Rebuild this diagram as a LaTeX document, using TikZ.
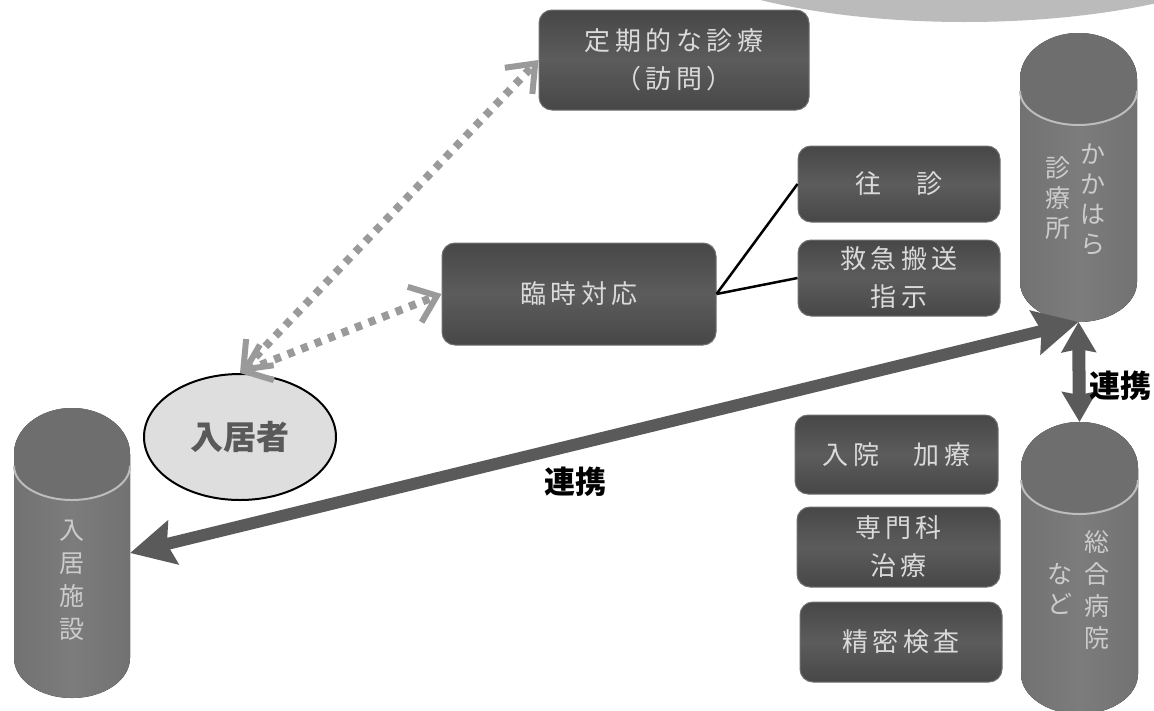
\documentclass[tikz,border=0pt]{standalone}
\usepackage{fontspec}
\usetikzlibrary{arrows.meta,shapes.geometric}
\setmainfont{Noto Sans CJK JP}
\newfontfamily\boxfont[LetterSpace=17]{Noto Sans CJK JP}
\definecolor{boxedge}{HTML}{707070}
\definecolor{boxdark}{HTML}{474747}
\definecolor{boxmid}{HTML}{5C5C5C}
\definecolor{cylside}{HTML}{727272}
\definecolor{cylmid}{HTML}{7C7C7C}
\definecolor{cyltop}{HTML}{6E6E6E}
\definecolor{cyllip}{HTML}{BDBDBD}
\definecolor{softtext}{HTML}{DADADA}
\definecolor{cyltext}{HTML}{CCCCCC}
\definecolor{dots}{HTML}{9A9A9A}
\definecolor{thick}{HTML}{5A5A5A}
\definecolor{band}{HTML}{BBBBBB}
\definecolor{oval}{HTML}{DEDEDE}
\tikzset{
  darkbox/.style={draw=boxedge,line width=1pt,rounded corners=13pt,inner sep=0pt,
    top color=boxdark,bottom color=boxdark,middle color=boxmid,
    align=center,text=softtext,font={\boxfont\fontsize{26}{38}\selectfont}},
  cylanchor/.style={rectangle,inner sep=0pt,outer sep=0pt},
  cyltextnode/.style={inner sep=0pt,align=center,text=cyltext,font={\fontsize{25}{#1}\selectfont}},
  cyltextnode/.default=31,
  dotarrow/.style={draw=dots,line width=8pt,dash pattern=on 7pt off 7.5pt,
    {Straight Barb[length=24pt,width=38pt,line width=6pt]}-{Straight Barb[length=24pt,width=38pt,line width=6pt]}},
  tiearrow/.style={draw=thick,fill=thick,line width=12pt,
    {Stealth[length=44pt,width=44pt,inset=6pt]}-{Stealth[length=44pt,width=44pt,inset=6pt]}},
  linkarrow/.style={draw=thick,fill=thick,line width=13pt,
    {Stealth[length=30pt,width=34pt,inset=3pt]}-{Stealth[length=30pt,width=34pt,inset=3pt]}},
  plainline/.style={draw=black,line width=2.5pt},
  linklabel/.style={inner sep=0pt,text=black,font={\bfseries\fontsize{31}{34}\selectfont}},
}
% name, centre x, half width, top y, bottom y
\newcommand{\makecyl}[5]{%
  \fill[left color=cylside,right color=cylside,middle color=cylmid]
    (#2-#3,#4+46) arc[start angle=180,end angle=0,x radius=#3pt,y radius=46pt]
    -- (#2+#3,#5-40) arc[start angle=0,end angle=-180,x radius=#3pt,y radius=40pt] -- cycle;
  \fill[cyltop]
    (#2-#3,#4+46) arc[start angle=180,end angle=0,x radius=#3pt,y radius=46pt]
    -- (#2+#3,#4+58) arc[start angle=0,end angle=-180,x radius=#3pt,y radius=34pt] -- cycle;
  \draw[cyllip,line width=2pt]
    (#2-#3,#4+58) arc[start angle=180,end angle=360,x radius=#3pt,y radius=34pt];
  \node[cylanchor,minimum width=2*#3 pt,minimum height=#5pt-#4pt] (#1) at (#2,{(#4+#5)/2}) {};
}
\begin{document}
\begin{tikzpicture}[x=1pt,y=-1pt]
\useasboundingbox (0,0) rectangle (1154,710);
\fill[white] (0,0) rectangle (1154,710);
% band at the top right
\fill[band] (965,-80) ellipse[x radius=330pt,y radius=102pt];
% cylinders
\makecyl{cyla}{72}{58}{408}{698}
\makecyl{cylb}{1078.5}{58.5}{33}{322}
\makecyl{cylc}{1079.5}{58.5}{422}{714}
\node[cyltextnode=33] (cylatext) at (72,580) {入\\居\\施\\設};
\node[cyltextnode=30] (cylbtexta) at (1093,199) {か\\か\\は\\ら};
\node[cyltextnode=30] (cylbtextb) at (1058,198) {診\\療\\所};
\node[cyltextnode=32] (cylctexta) at (1097,590) {総\\合\\病\\院};
\node[cyltextnode=30] (cylctextb) at (1060,589) {な\\ど};
% boxes
\node[darkbox,minimum width=270pt,minimum height=100pt] (teiki) at (674,60) {定期的な診療\\（訪問）};
\node[darkbox,minimum width=274pt,minimum height=102pt] (rinji) at (579,294) {臨時対応};
\node[darkbox,minimum width=202pt,minimum height=76pt] (oshin) at (899,184) {往　診};
\node[darkbox,minimum width=202pt,minimum height=76pt] (kyukyu) at (899,278) {救急搬送\\指示};
\node[darkbox,minimum width=203pt,minimum height=79pt] (nyuin) at (896.5,454.5) {入院　加療};
\node[darkbox,minimum width=203pt,minimum height=80pt] (senmon) at (898.5,547) {専門科\\治療};
\node[darkbox,minimum width=202pt,minimum height=80pt] (seimitsu) at (901,642) {精密検査};
% resident oval
\node[ellipse,draw=black,line width=2pt,fill=oval,minimum width=192pt,minimum height=126pt,inner sep=0pt,
  text=black!65,font={\bfseries\fontsize{33}{36}\selectfont}] (kyo) at (240,437) {入居者};
% connectors
\draw[dotarrow] (kyo.north) -- (teiki.west);
\draw[dotarrow] (kyo.north) -- (rinji.west);
\draw[plainline] (rinji.east) -- (oshin.west);
\draw[plainline] (rinji.east) -- (kyukyu.west);
\draw[tiearrow] (cyla.east) -- (cylb.south);
\draw[linkarrow] (cylb.south) -- (cylc.north);
% labels
\node[linklabel] (renkeia) at (575,482) {連携};
\node[linklabel] (renkeib) at (1120,386) {連携};
\end{tikzpicture}
\end{document}
